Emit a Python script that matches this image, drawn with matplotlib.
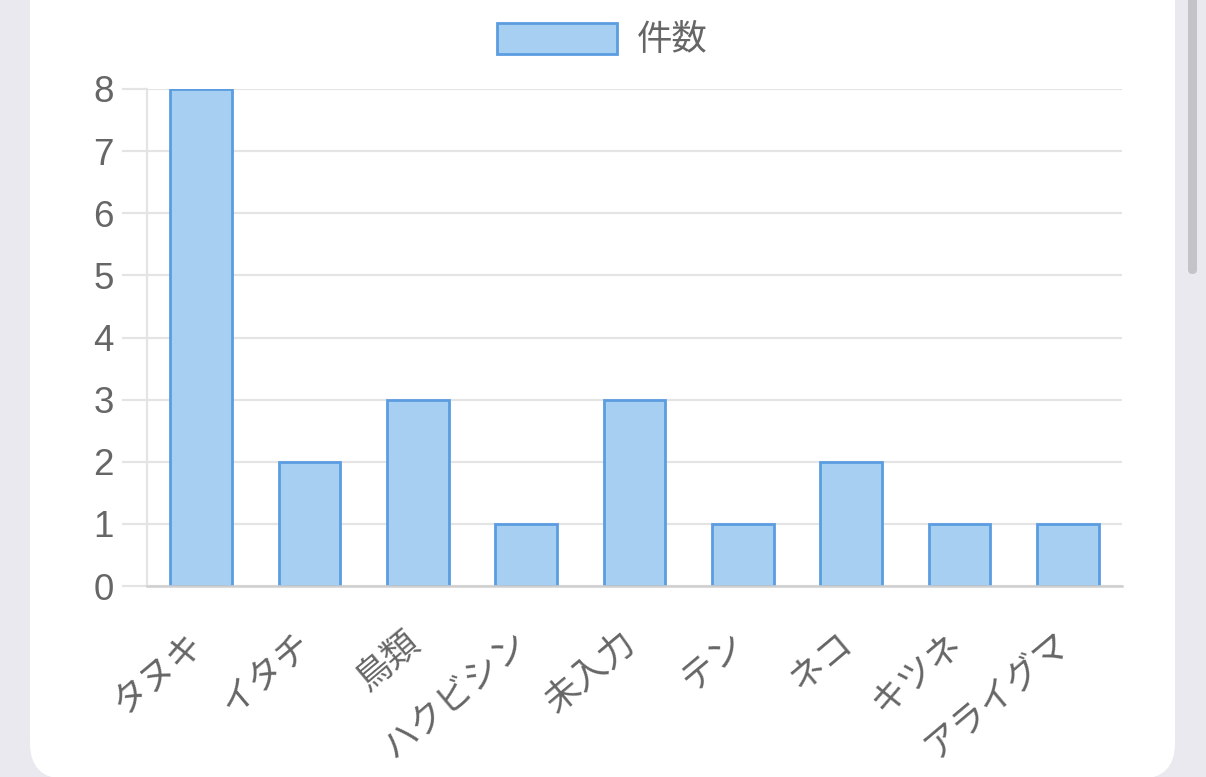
import matplotlib
matplotlib.use("Agg")
import matplotlib.pyplot as plt
from matplotlib.patches import FancyBboxPatch, Patch
from matplotlib.transforms import IdentityTransform, ScaledTranslation

plt.rcParams['font.family'] = ['Liberation Sans', 'Noto Sans CJK JP', 'DejaVu Sans']

categories = ["タヌキ", "イタチ", "鳥類", "ハクビシン", "未入力", "テン", "ネコ", "キツネ", "アライグマ"]
counts = [8, 2, 3, 1, 3, 1, 2, 1, 1]
series_label = "件数"
y_ticks = [0, 1, 2, 3, 4, 5, 6, 7, 8]

W, H = 1206, 777
fig = plt.figure(figsize=(W / 100, H / 100), dpi=100)
fig.patch.set_facecolor('#e9e9ef')

# white card
card = FancyBboxPatch((30, -2), 1145, H + 60, boxstyle="round,pad=0,rounding_size=36",
                      facecolor='white', edgecolor='none', transform=IdentityTransform(), zorder=0)
fig.add_artist(card)
# scrollbar thumb
thumb = FancyBboxPatch((1188, H - 274), 9, 300, boxstyle="round,pad=0,rounding_size=4.5",
                       facecolor='#c3c3c8', edgecolor='none', transform=IdentityTransform(), zorder=0)
fig.add_artist(thumb)

ax = fig.add_axes([147 / W, 1 - 586 / H, (1122 - 147) / W, (586 - 89) / H])
ax.set_facecolor('none')

fill = '#a6cff2'
edge = '#5b9de0'
x = list(range(len(categories)))
ax.bar(x, counts, width=0.57, color=fill, edgecolor=edge, linewidth=2.0, zorder=3)

ax.set_xlim(-0.5, len(categories) - 0.5)
ax.set_ylim(0, 8)
ax.set_yticks(y_ticks)
ax.set_yticklabels([str(v) for v in y_ticks])
ax.yaxis.grid(True, color='#e4e4e4', linewidth=1.6, zorder=0)
ax.set_axisbelow(True)

ax.tick_params(axis='y', length=18, width=1.6, color='#e4e4e4', pad=6,
               labelsize=26.5, labelcolor='#666666')
ax.tick_params(axis='x', length=0, pad=29, labelsize=25.5, labelcolor='#666666')
ax.set_xticks(x)
ax.set_xticklabels(categories, rotation=40, ha='right', va='top', rotation_mode='anchor')
shift = ScaledTranslation(-13 / 100, 0, fig.dpi_scale_trans)
for lbl in ax.get_xticklabels():
    lbl.set_transform(lbl.get_transform() + shift)

for s in ['top', 'right']:
    ax.spines[s].set_visible(False)
ax.spines['left'].set_color('#e4e4e4')
ax.spines['left'].set_linewidth(1.6)
ax.spines['bottom'].set_color('#cfcfcf')
ax.spines['bottom'].set_linewidth(1.8)
ax.spines['bottom'].set_zorder(4)

handle = Patch(facecolor=fill, edgecolor=edge, linewidth=2.0)
fig.legend([handle], [series_label], loc='center', bbox_to_anchor=(602 / W, 1 - 40 / H),
           frameon=False, fontsize=25.5, labelcolor='#666666',
           handlelength=3.4, handleheight=1.0, handletextpad=0.55)

fig.savefig('out.png', dpi=100, facecolor=fig.get_facecolor())
